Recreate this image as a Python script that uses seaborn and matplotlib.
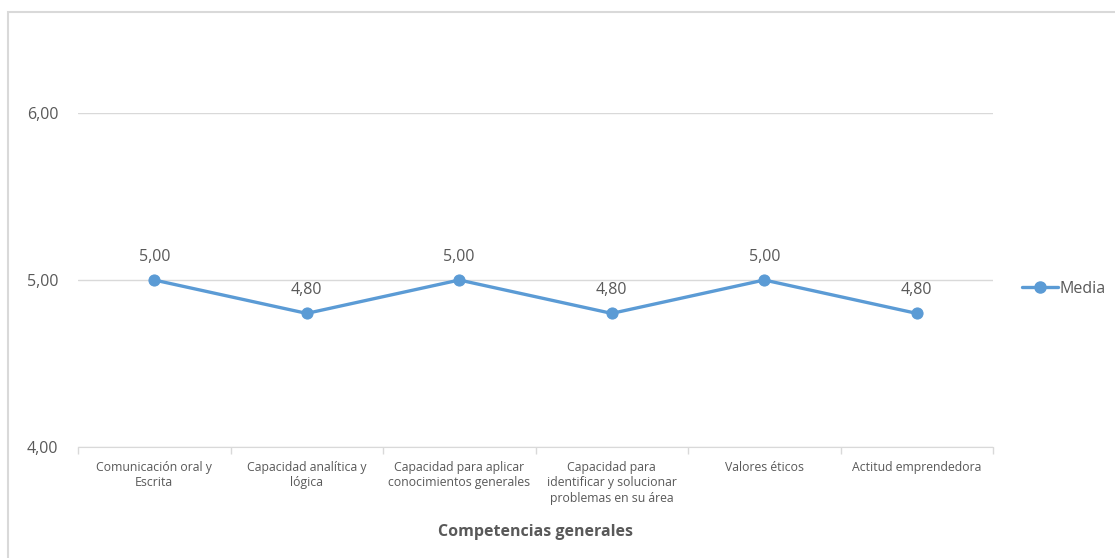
import matplotlib
matplotlib.use("Agg")
import matplotlib.pyplot as plt
import seaborn as sns
import pandas as pd
from matplotlib.patches import Rectangle
from matplotlib.lines import Line2D

# Datos del gráfico
competencias = [
    "Comunicación oral y\nEscrita",
    "Capacidad analítica y\nlógica",
    "Capacidad para aplicar\nconocimientos generales",
    "Capacidad para\nidentificar y solucionar\nproblemas en su área",
    "Valores éticos",
    "Actitud emprendedora",
]
media = [5.00, 4.80, 5.00, 4.80, 5.00, 4.80]
yticks = [4.0, 5.0, 6.0]
yticklabels = ["4,00", "5,00", "6,00"]

df = pd.DataFrame({"Competencia": competencias, "Media": media})

sns.set_style("white")
plt.rcParams["font.family"] = ["Open Sans", "DejaVu Sans"]

azul = "#5B9BD5"
gris = "#595959"
linea = "#D9D9D9"

fig = plt.figure(figsize=(11.15, 5.58), dpi=100)
ax = fig.add_axes([78 / 1115, 1 - 447 / 558, (993 - 78) / 1115, (447 - 113) / 558])

sns.lineplot(data=df, x="Competencia", y="Media", ax=ax, color=azul,
             linewidth=2.4, marker="o", markersize=8, markeredgecolor=azul,
             sort=False)

# etiquetas de datos
for i, v in enumerate(media):
    ax.annotate(f"{v:.2f}".replace(".", ","), (i, v), xytext=(0, 11),
                textcoords="offset points", ha="center", va="bottom",
                fontsize=11.5, color=gris)

ax.set_ylim(4, 6)
ax.set_xlim(-0.5, len(competencias) - 0.5)
ax.set_yticks(yticks)
ax.set_yticklabels(yticklabels, fontsize=11.5, color=gris)
ax.set_xticks(range(len(competencias)))
ax.set_xticklabels(competencias, fontsize=8.8, color=gris, linespacing=1.25)
ax.set_xticks([i - 0.5 for i in range(len(competencias) + 1)], minor=True)
ax.tick_params(axis="x", which="major", length=0, pad=10)
ax.tick_params(axis="x", which="minor", bottom=True, length=5, color=linea,
               width=1, direction="out")
ax.tick_params(axis="y", length=0, pad=14)
ax.grid(axis="y", color=linea, linewidth=1)
for s in ["top", "right", "left"]:
    ax.spines[s].set_visible(False)
ax.spines["bottom"].set_color(linea)
ax.set_ylabel("")
ax.set_xlabel("Competencias generales", fontsize=11.5, fontweight="bold",
              color=gris, labelpad=14)

handle = Line2D([0], [0], color=azul, linewidth=2.4, marker="o", markersize=8)
fig.legend([handle], ["Media"], loc="center left",
           bbox_to_anchor=(1008 / 1115, 1 - 289 / 558), frameon=False,
           fontsize=11.5, labelcolor=gris, handlelength=2.2, handletextpad=0.1)

# borde del área del gráfico
fig.patches.append(Rectangle((8 / 1115, -0.1), 1.2, 1 - 12 / 558 + 0.1,
                             transform=fig.transFigure, fill=False,
                             edgecolor=linea, linewidth=1.5))

fig.savefig("out.png", dpi=100)
